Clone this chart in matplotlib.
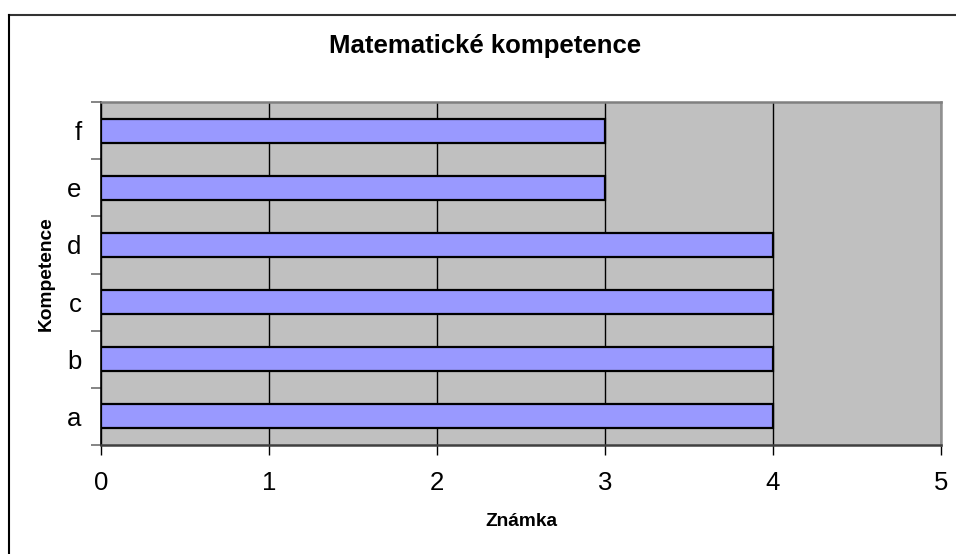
import matplotlib
matplotlib.use('Agg')
import matplotlib.pyplot as plt
from matplotlib.lines import Line2D
import numpy as np

categories = ['a', 'b', 'c', 'd', 'e', 'f']
values = [4, 4, 4, 4, 3, 3]
x_ticks = [0, 1, 2, 3, 4, 5]

plt.rcParams['font.family'] = ['Liberation Sans', 'DejaVu Sans']

fig = plt.figure(figsize=(9.56, 5.54), dpi=100)
ax = fig.add_axes([101 / 956, 1 - 445 / 554, 840 / 956, 343 / 554])
ax.set_facecolor('#C0C0C0')

pos = np.arange(len(categories))
ax.barh(pos, values, height=0.42, color='#9999FF', edgecolor='black', linewidth=1.6, zorder=3)

ax.set_xlim(0, 5)
ax.set_ylim(-0.5, len(categories) - 0.5)
ax.set_xticks(x_ticks)
ax.set_xticklabels([str(t) for t in x_ticks], fontsize=18.5)
ax.tick_params(axis='x', direction='out', length=7, width=1, color='black', pad=12)
ax.xaxis.grid(True, color='black', linewidth=1, zorder=1)

ax.set_yticks(pos)
ax.set_yticklabels(categories, fontsize=18.5)
ax.tick_params(axis='y', which='major', length=0, pad=14)
ax.set_yticks(np.arange(-0.5, len(categories)), minor=True)
ax.tick_params(axis='y', which='minor', direction='out', length=7, width=1.2, color='#707070')

ax.spines['left'].set_color('black')
ax.spines['left'].set_linewidth(1.2)
ax.spines['bottom'].set_color('#404040')
ax.spines['bottom'].set_linewidth(1.8)
ax.spines['top'].set_color('#808080')
ax.spines['top'].set_linewidth(1.8)
ax.spines['right'].set_color('#909090')
ax.spines['right'].set_linewidth(1.8)

xl = ax.set_xlabel('Známka', fontsize=13.8, fontweight='bold')
xl.set_va('center')
ax.xaxis.set_label_coords(0.5, -(521 - 445) / 343)
yl = ax.set_ylabel('Kompetence', fontsize=13.8, fontweight='bold')
yl.set_va('center')
ax.yaxis.set_label_coords((46 - 101) / 840, 0.5)

fig.text(485 / 956, 1 - 46 / 554, 'Matematické kompetence', fontsize=18.5, fontweight='bold',
         ha='center', va='center')

# outer chart border (top and left only, as cropped)
fig.add_artist(Line2D([9 / 956, 1], [1 - 15 / 554, 1 - 15 / 554], transform=fig.transFigure,
                      color='#333333', linewidth=1.5))
fig.add_artist(Line2D([9 / 956, 9 / 956], [0, 1 - 15 / 554], transform=fig.transFigure,
                      color='black', linewidth=1.5))

fig.savefig('out.png', dpi=100)
